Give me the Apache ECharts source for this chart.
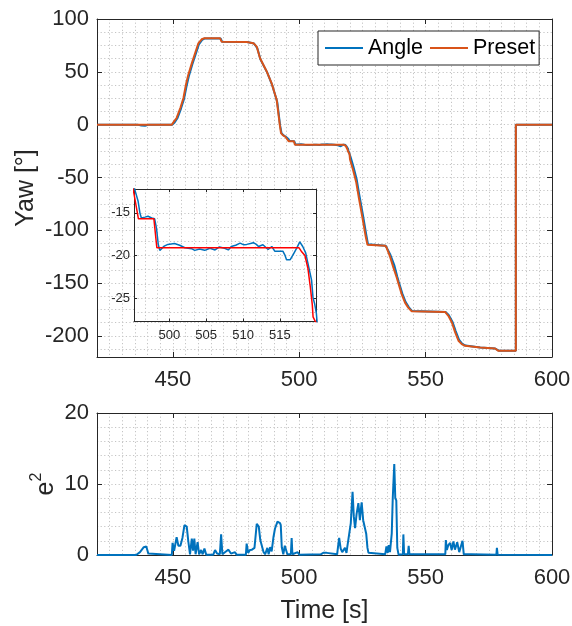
<!DOCTYPE html>
<html>
<head>
<meta charset="utf-8">
<script src="https://cdn.jsdelivr.net/npm/echarts@6/dist/echarts.min.js"></script>
<style>
html, body { margin: 0; padding: 0; background: #fff; }
#ec1 { width: 572px; height: 626px; }
</style>
</head>
<body>
<div id="ec1"></div>
<script>
// yaw set point [time s, deg]
var presetPts = [[420,0],[448,0],[449.6,0],[450.5,3],[451.5,6.3],[453,16],[454.2,25.2],[455.2,38],[456.1,47],[457.5,58],[458.8,67.6],[460.1,77],[461.4,80.8],[462.3,81.7],[468.7,81.7],[469.3,78.5],[479.2,78.3],[481.9,77],[483.2,73.8],[484.5,62.8],[487.2,50],[489.1,39],[491.1,23.3],[492.3,0],[492.8,-8],[493.5,-10],[494.5,-11.5],[495.0,-11.8],[495.8,-15.7],[497.9,-15.7],[498.3,-19.1],[517.6,-19.1],[517.9,-19.5],[518.4,-20],[518.8,-21.5],[519.1,-23.5],[519.4,-25.8],[519.5,-27.2],[519.9,-27.9],[520.1,-33],[521.2,-42],[522.5,-54],[523.5,-68],[525,-88],[526.3,-106],[527,-113.7],[534,-114.6],[534.6,-116.6],[535.9,-124.7],[537.3,-135.6],[538.6,-145],[539.2,-149.8],[540.6,-161],[541.9,-168.8],[543.2,-173.5],[544.5,-176.7],[557.7,-177.3],[559,-181],[560.4,-187.3],[561.7,-196.7],[563,-204.6],[564.3,-207.8],[565.6,-209.4],[571.6,-211],[577.5,-212],[578.8,-214.2],[585.7,-214.2],[585.7,0],[600,0]];

// measured yaw [time s, deg]
var anglePts = [[420,0],[436,0],[437.5,-0.8],[439,-1.1],[440.5,0],[449.8,0],[450.7,2],[451.8,6],[453.2,15],[454.4,24],[455.4,36],[456.3,45.5],[457.7,57],[459.0,66.5],[460.3,76],[461.6,80.3],[462.5,81.5],[468.9,81.5],[469.5,78.5],[479.4,78.2],[482.1,76.8],[483.4,72.5],[484.7,61.5],[487.4,49],[489.3,37.5],[491.3,21.5],[492.45,-1],[493.0,-8],[493.7,-10],[494.7,-11.5],[495.3,-12.25],[495.75,-13.6],[496.0,-15],[496.2,-15.6],[496.7,-15.5],[497.1,-15.4],[497.6,-15.6],[498.0,-15.7],[498.25,-16.8],[498.5,-18.75],[498.7,-19.4],[498.9,-19.3],[499.3,-18.9],[499.8,-18.7],[500.7,-18.6],[501.4,-18.8],[502.1,-19.1],[503.0,-19.2],[503.45,-19.4],[504.1,-19.25],[504.8,-19.4],[505.5,-19.15],[506.2,-19.35],[506.8,-19.0],[507.5,-19.15],[508.0,-19.35],[508.4,-18.95],[509.0,-18.8],[509.6,-18.55],[510.1,-18.75],[510.5,-18.7],[511.0,-18.6],[511.4,-18.5],[511.8,-18.7],[512.1,-18.95],[512.7,-18.75],[513.4,-19.3],[513.9,-18.95],[514.3,-19.5],[515.4,-19.5],[515.7,-20.0],[515.9,-20.5],[516.4,-20.5],[516.8,-19.9],[517.3,-19.1],[517.7,-18.4],[518.1,-18.95],[518.5,-19.7],[518.8,-20.9],[519.3,-22.9],[519.5,-25],[519.7,-25.6],[519.95,-26.8],[520.3,-30.5],[521.4,-39.5],[522.7,-51.5],[523.7,-65.5],[525.2,-85.5],[526.5,-104],[527.2,-113.2],[534.2,-114.6],[534.8,-116],[536.1,-123.5],[537.6,-133],[538.8,-144],[539.4,-149],[540.8,-160],[542.1,-168],[543.4,-173],[544.7,-176.5],[557.9,-177.3],[559.2,-180.5],[560.6,-186.5],[561.9,-195.5],[563.2,-203.5],[564.5,-207.5],[565.8,-209.2],[571.6,-211],[577.5,-212],[579.0,-214],[585.7,-214.2],[585.7,0],[600,0]];

// squared error [time s, deg^2]
var errPts = [[420,0],[435.5,0],[437,0.4],[438.5,1.1],[439.5,1.2],[440.3,0.2],[441,0],[449.6,0],[449.9,1.7],[450.5,0.6],[451.5,2.5],[452.2,1.3],[453,1.3],[453.8,2.4],[454.6,4.2],[455.1,4.3],[455.5,4.0],[456.1,2.0],[456.8,0.1],[457.5,2.3],[458,0.6],[458.5,2.3],[459,0.1],[459.8,1.8],[460.4,0.1],[461.2,0.7],[461.8,0.1],[462.5,0.9],[463.2,0.05],[466,0.05],[466.7,0.7],[467.5,0.2],[468.6,0.1],[469.1,2.9],[469.6,0.1],[471,0.5],[472,0.75],[473,0.2],[474.6,0.4],[475.2,0.05],[478.9,0.05],[479.2,1.6],[479.8,0.3],[480.5,0.7],[481.3,0.75],[482.3,1.0],[483.2,4.4],[484.0,4.0],[484.6,2.1],[485.3,2.2],[485.9,0.4],[486.5,0.1],[487.4,1.0],[487.9,0.1],[488.5,1.1],[489.1,0.5],[489.8,2.5],[490.4,3.7],[491.4,4.7],[491.9,4.9],[492.4,4.5],[492.7,4.2],[493.1,1.1],[493.7,0.1],[494.3,1.3],[494.8,1.4],[495.3,0.1],[496.7,0.1],[497.0,2.4],[497.3,0.1],[499.4,0.4],[500,0.05],[508.5,0.1],[509.5,0.3],[510,0.05],[510.9,0.3],[511.5,0.05],[515,0.1],[515.3,1.0],[515.8,2.4],[516.4,0.9],[517.0,0.4],[518.1,1.0],[518.7,0.3],[519.0,1.1],[519.5,2.3],[520.0,2.5],[520.4,4.5],[521.1,8.9],[521.6,5.4],[522.1,3.8],[522.7,5.8],[523.4,7.3],[524.0,4.9],[524.4,6.5],[524.7,7.4],[525.3,4.9],[526.0,5.0],[526.5,3.0],[527.0,1.0],[527.4,0.3],[528,0.1],[534,0.1],[534.5,1.2],[535.0,0.3],[535.4,1.4],[535.9,0.4],[536.6,3.0],[537.0,8.0],[537.6,12.8],[538.0,8.0],[538.4,7.7],[538.8,1.0],[539.3,0.05],[541.0,0.1],[541.2,2.9],[541.5,0.1],[543.0,0.1],[543.3,1.3],[543.6,0.1],[557.8,0.1],[558.0,2.1],[558.4,0.7],[559.0,1.4],[559.7,1.7],[560.3,0.7],[561.0,1.9],[561.6,0.75],[562.5,1.8],[563.3,0.4],[564.6,2.0],[565.1,0.1],[568.0,0.1],[568.3,0.3],[568.7,0.05],[578.0,0.05],[578.2,1.0],[578.5,0.05],[600,0]];

var timeTicks = [450, 500, 550, 600];
var yawTicks = [-200, -150, -100, -50, 0, 50, 100];
var errTicks = [0, 10, 20];
var zoomTimeTicks = [500, 505, 510, 515];
var zoomYawTicks = [-25, -20, -15];

var FONT = '"Liberation Sans", Arial, Helvetica, sans-serif';
var INK = '#262626';
var GRIDLINE = '#c4c4c4';

var xAxes = [];
var yAxes = [];

// only print labels that are in the tick list
function onlyTicks(list) {
	return function (v) {
		for (var i = 0; i < list.length; i++) {
			if (Math.abs(list[i] - v) < 1e-6) return String(list[i]);
		}
		return '';
	};
}

// matlab style box: dotted grid axis, mirrored side with ticks, labelled side
function addAxes(list, dim, g, min, max, major, minor, ticks, o) {
	var side = dim === 'x' ? 'bottom' : 'left';
	var other = dim === 'x' ? 'top' : 'right';
	list.push({
		type: 'value', gridIndex: g, position: side, min: min, max: max,
		minInterval: minor, maxInterval: minor, z: o.z,
		axisLine: {show: false}, axisTick: {show: false}, axisLabel: {show: false},
		splitLine: {show: true, lineStyle: {color: GRIDLINE, type: [1.2, 2.4], width: 1}}
	});
	list.push({
		type: 'value', gridIndex: g, position: other, min: min, max: max,
		minInterval: major, maxInterval: major, z: o.z,
		axisLine: {show: true, onZero: false, lineStyle: {color: INK, width: 1}},
		axisTick: {show: true, inside: true, length: o.tick, lineStyle: {color: INK}},
		axisLabel: {show: false},
		splitLine: {show: false}
	});
	var ax = {
		type: 'value', gridIndex: g, position: side, min: min, max: max,
		minInterval: major, maxInterval: major, z: o.z,
		axisLine: {show: true, onZero: false, lineStyle: {color: INK, width: 1}},
		axisTick: {show: true, inside: true, length: o.tick, lineStyle: {color: INK}},
		axisLabel: {
			formatter: onlyTicks(ticks), color: INK, fontSize: o.font,
			fontFamily: FONT, margin: o.margin
		},
		splitLine: {show: false}
	};
	if (o.name) {
		ax.name = o.name;
		ax.nameLocation = 'middle';
		ax.nameGap = o.nameGap;
		ax.nameMoveOverlap = false;
		ax.nameTextStyle = o.nameStyle;
	}
	list.push(ax);
	return list.length - 1;
}

function drawChart() {
	var myCharts = echarts.init(document.getElementById('ec1'));

	var nameStyle = {color: INK, fontSize: 25, fontFamily: FONT};

	// grid 0: yaw, grid 1: error, grid 2: zoomed inset
	var tx = addAxes(xAxes, 'x', 0, 420, 600, 50, 5, timeTicks, {z: 0, tick: 5, font: 22, margin: 12});
	var ty = addAxes(yAxes, 'y', 0, -220, 100, 50, 12.5, yawTicks, {
		z: 0, tick: 5, font: 22, margin: 8,
		name: 'Yaw [°]', nameGap: 58, nameStyle: nameStyle
	});
	var bx = addAxes(xAxes, 'x', 1, 420, 600, 50, 5, timeTicks, {
		z: 0, tick: 5, font: 22, margin: 12,
		name: 'Time [s]', nameGap: 44, nameStyle: nameStyle
	});
	var by = addAxes(yAxes, 'y', 1, 0, 20, 10, 2, errTicks, {
		z: 0, tick: 5, font: 22, margin: 8,
		name: '{b|e}{s|2}', nameGap: 38,
		nameStyle: {
			color: INK, fontFamily: FONT,
			rich: {
				b: {fontSize: 25, fontFamily: FONT, color: INK, lineHeight: 30, verticalAlign: 'bottom'},
				s: {fontSize: 16, fontFamily: FONT, color: INK, lineHeight: 30, verticalAlign: 'top'}
			}
		}
	});
	var ix = addAxes(xAxes, 'x', 2, 495.2, 519.9, 5, 5 / 3, zoomTimeTicks, {z: 3, tick: 3, font: 13, margin: 7});
	var iy = addAxes(yAxes, 'y', 2, -27.75, -12.2, 5, 5 / 3, zoomYawTicks, {z: 3, tick: 3, font: 13, margin: 4});

	var option = {
		animation: false,
		backgroundColor: '#fff',
		grid: [
			{left: 97, top: 19, width: 455, height: 338, containLabel: false, outerBoundsMode: 'none'},
			{left: 97, top: 413, width: 455, height: 142, containLabel: false, outerBoundsMode: 'none'},
			{left: 134, top: 189, width: 182, height: 132.5, containLabel: false, outerBoundsMode: 'none',
				show: true, z: 1, backgroundColor: '#fff', borderWidth: 0}
		],
		legend: {
			data: ['Angle', 'Preset'],
			left: 318, top: 31,
			padding: [6, 4, 6, 7],
			itemGap: 7,
			icon: 'rect',
			itemWidth: 38, itemHeight: 2,
			backgroundColor: '#fff',
			borderColor: INK, borderWidth: 1, borderRadius: 0,
			textStyle: {color: '#000', fontSize: 21.5, fontFamily: FONT},
			selectedMode: false
		},
		xAxis: xAxes,
		yAxis: yAxes,
		series: [
			{
				name: 'Angle', type: 'line', xAxisIndex: tx, yAxisIndex: ty,
				data: anglePts, symbol: 'none', color: '#0072BD',
				lineStyle: {width: 2, color: '#0072BD'}
			},
			{
				name: 'Preset', type: 'line', xAxisIndex: tx, yAxisIndex: ty,
				data: presetPts, symbol: 'none', color: '#D95319',
				lineStyle: {width: 2, color: '#D95319'}
			},
			{
				name: 'e2', type: 'line', xAxisIndex: bx, yAxisIndex: by,
				data: errPts, symbol: 'none',
				lineStyle: {width: 2, color: '#0072BD'}
			},
			{
				name: 'zoomAngle', type: 'line', xAxisIndex: ix, yAxisIndex: iy, z: 4,
				data: anglePts, symbol: 'none',
				lineStyle: {width: 1.5, color: '#0072BD'}
			},
			{
				name: 'zoomPreset', type: 'line', xAxisIndex: ix, yAxisIndex: iy, z: 4,
				data: presetPts, symbol: 'none',
				lineStyle: {width: 1.5, color: '#FF0000'}
			}
		]
	};
	myCharts.setOption(option);
}

drawChart();
</script>
</body>
</html>
